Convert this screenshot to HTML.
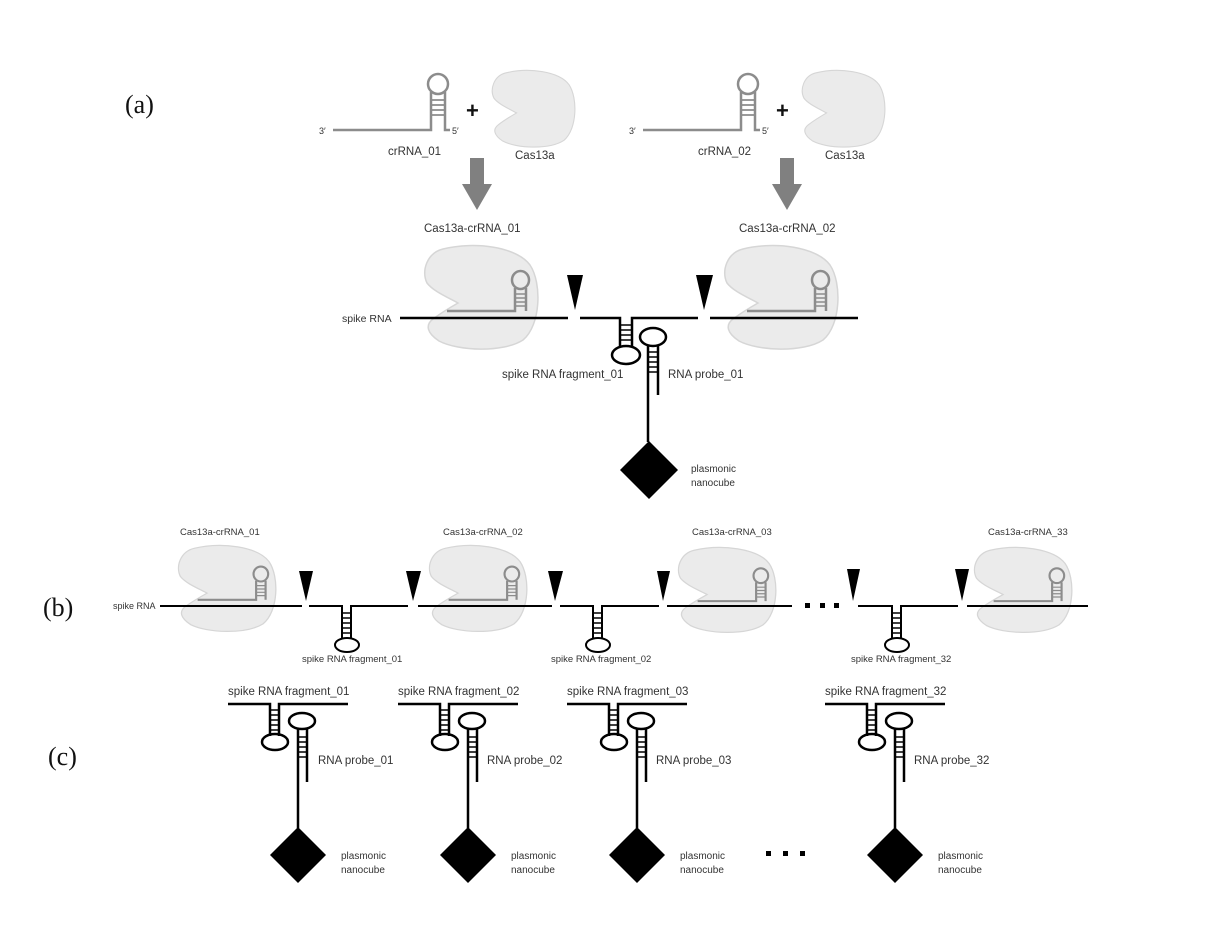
<!DOCTYPE html>
<html><head><meta charset="utf-8"><style>
html,body{margin:0;padding:0;background:#fff;}
svg{display:block;}
.s{font-family:"Liberation Sans",Arial,sans-serif;fill:#333;}
.a{font-size:11.5px;}
.b{font-size:9.5px;}
.L{font-family:"Liberation Serif","Times New Roman",serif;font-size:26px;fill:#111;}
</style></head><body>
<svg width="1206" height="939" viewBox="0 0 1206 939" xmlns="http://www.w3.org/2000/svg">
<defs>
<path id="blob" d="M20,4 C52,-4 94,2 107,20 C119,38 118,80 100,95 C80,108 35,106 16,96 C4,88 2,80 10,74 C18,68 28,62 35,58 C24,52 10,46 4,38 C-2,26 4,8 20,4 Z" fill="#ebebeb" stroke="#d6d6d6" stroke-width="1.5"/>
<g id="cas">
<use href="#blob"/>
<g fill="none" stroke="#8c8c8c" stroke-width="2.5">
<path d="M24,66 H92 V43"/>
<path d="M103,66 V43"/>
<ellipse cx="97.5" cy="35" rx="8.5" ry="9"/>
<path d="M92,49 H103 M92,53 H103 M92,57 H103 M92,61 H103" stroke-width="1.5"/>
</g>
</g>
<g id="crna">
<g fill="none" stroke="#8c8c8c" stroke-width="2.5">
<path d="M333,130 H431 V92"/>
<path d="M445,92 V130 H450"/>
<ellipse cx="438" cy="84" rx="10" ry="10"/>
<path d="M431,100 H445 M431,105 H445 M431,110 H445 M431,115 H445" stroke-width="1.8"/>
</g>
<text x="319" y="134" class="s" style="font-size:9px">3′</text>
<text x="452" y="134" class="s" style="font-size:9px">5′</text>
<text x="466" y="118" class="s" style="font-size:22px;font-weight:bold;fill:#111">+</text>
<use href="#blob" transform="translate(491,70) scale(0.73,0.74)"/>
<text x="515" y="159" class="s a">Cas13a</text>
<rect x="470" y="158" width="14" height="27" fill="#808080"/>
<polygon points="462,184 492,184 477,210" fill="#808080"/>
</g>
<g id="cunit">
<g fill="none" stroke="#000" stroke-width="2.5">
<path d="M228,704 H270 V736"/>
<path d="M279,736 V704 H348"/>
<ellipse cx="275" cy="742" rx="13" ry="8"/>
<path d="M270,710 H279 M270,715 H279 M270,720 H279 M270,725 H279 M270,730 H279" stroke-width="1.6"/>
<ellipse cx="302" cy="721" rx="13" ry="8"/>
<path d="M298,729 V828"/>
<path d="M307,729 V782"/>
<path d="M298,737 H307 M298,742 H307 M298,747 H307 M298,752 H307 M298,757 H307" stroke-width="1.6"/>
</g>
<polygon points="298,827 326,855 298,883 270,855" fill="#000"/>
<text x="341" y="859" class="s b" style="font-size:10px">plasmonic</text>
<text x="341" y="873" class="s b" style="font-size:10px">nanocube</text>
</g>
</defs>

<text x="125" y="113" class="L">(a)</text>
<text x="43" y="616" class="L">(b)</text>
<text x="48" y="765" class="L">(c)</text>

<use href="#crna"/>
<use href="#crna" transform="translate(310,0)"/>
<text x="388" y="155" class="s a">crRNA_01</text>
<text x="698" y="155" class="s a">crRNA_02</text>

<text x="424" y="232" class="s a">Cas13a-crRNA_01</text>
<text x="739" y="232" class="s a">Cas13a-crRNA_02</text>

<use href="#cas" transform="translate(423,245)"/>
<use href="#cas" transform="translate(723,245)"/>
<text x="342" y="322" class="s a" style="font-size:10.5px">spike RNA</text>
<g fill="none" stroke="#000" stroke-width="2.5">
<path d="M400,318 H568"/>
<path d="M580,318 H620 V347"/>
<path d="M632,347 V318 H698"/>
<path d="M710,318 H858"/>
<ellipse cx="626" cy="355" rx="14" ry="9"/>
<path d="M620,325 H632 M620,330 H632 M620,335 H632 M620,340 H632" stroke-width="1.6"/>
<ellipse cx="653" cy="337" rx="13" ry="9"/>
<path d="M648,346 V442"/>
<path d="M658,346 V395"/>
<path d="M648,352 H658 M648,357 H658 M648,362 H658 M648,367 H658 M648,372 H658" stroke-width="1.6"/>
</g>
<polygon points="567,275 583,275 575,310" fill="#000"/>
<polygon points="696,275 713,275 704,310" fill="#000"/>
<polygon points="649,441 678,470 649,499 620,470" fill="#000"/>
<text x="502" y="378" class="s a">spike RNA fragment_01</text>
<text x="668" y="378" class="s a">RNA probe_01</text>
<text x="691" y="472" class="s b" style="font-size:10px">plasmonic</text>
<text x="691" y="486" class="s b" style="font-size:10px">nanocube</text>

<use href="#cas" transform="translate(177,545) scale(0.86,0.83)"/>
<use href="#cas" transform="translate(428,545) scale(0.86,0.83)"/>
<use href="#cas" transform="translate(677,547) scale(0.86,0.82)"/>
<use href="#cas" transform="translate(973,547) scale(0.86,0.82)"/>
<text x="180" y="535" class="s b">Cas13a-crRNA_01</text>
<text x="443" y="535" class="s b">Cas13a-crRNA_02</text>
<text x="692" y="535" class="s b">Cas13a-crRNA_03</text>
<text x="988" y="535" class="s b">Cas13a-crRNA_33</text>
<text x="113" y="609" class="s b" style="font-size:9px">spike RNA</text>
<g fill="none" stroke="#000" stroke-width="2">
<path d="M160,606 H302"/>
<path d="M309,606 H342 V639"/>
<path d="M351,639 V606 H408"/>
<path d="M418,606 H552"/>
<path d="M560,606 H593 V639"/>
<path d="M602,639 V606 H659"/>
<path d="M667,606 H792"/>
<path d="M858,606 H892 V639"/>
<path d="M901,639 V606 H958"/>
<path d="M967,606 H1088"/>
<ellipse cx="347" cy="645" rx="12" ry="7"/>
<ellipse cx="598" cy="645" rx="12" ry="7"/>
<ellipse cx="897" cy="645" rx="12" ry="7"/>
<g stroke-width="1.4">
<path d="M342,613 H351 M342,618 H351 M342,623 H351 M342,628 H351 M342,633 H351"/>
<path d="M593,613 H602 M593,618 H602 M593,623 H602 M593,628 H602 M593,633 H602"/>
<path d="M892,613 H901 M892,618 H901 M892,623 H901 M892,628 H901 M892,633 H901"/>
</g>
</g>
<polygon points="299,571 313,571 306,601" fill="#000"/>
<polygon points="406,571 421,571 413,601" fill="#000"/>
<polygon points="548,571 563,571 555,601" fill="#000"/>
<polygon points="657,571 670,571 663,601" fill="#000"/>
<polygon points="847,569 860,569 853,601" fill="#000"/>
<polygon points="955,569 969,569 962,601" fill="#000"/>
<rect x="805" y="603" width="5" height="5" fill="#000"/>
<rect x="820" y="603" width="5" height="5" fill="#000"/>
<rect x="834" y="603" width="5" height="5" fill="#000"/>
<text x="302" y="662" class="s b">spike RNA fragment_01</text>
<text x="551" y="662" class="s b">spike RNA fragment_02</text>
<text x="851" y="662" class="s b">spike RNA fragment_32</text>

<use href="#cunit"/>
<use href="#cunit" transform="translate(170,0)"/>
<use href="#cunit" transform="translate(339,0)"/>
<use href="#cunit" transform="translate(597,0)"/>
<text x="228" y="695" class="s a">spike RNA fragment_01</text>
<text x="398" y="695" class="s a">spike RNA fragment_02</text>
<text x="567" y="695" class="s a">spike RNA fragment_03</text>
<text x="825" y="695" class="s a">spike RNA fragment_32</text>
<text x="318" y="764" class="s a">RNA probe_01</text>
<text x="487" y="764" class="s a">RNA probe_02</text>
<text x="656" y="764" class="s a">RNA probe_03</text>
<text x="914" y="764" class="s a">RNA probe_32</text>
<rect x="766" y="851" width="5" height="5" fill="#000"/>
<rect x="783" y="851" width="5" height="5" fill="#000"/>
<rect x="800" y="851" width="5" height="5" fill="#000"/>
</svg>
</body></html>
